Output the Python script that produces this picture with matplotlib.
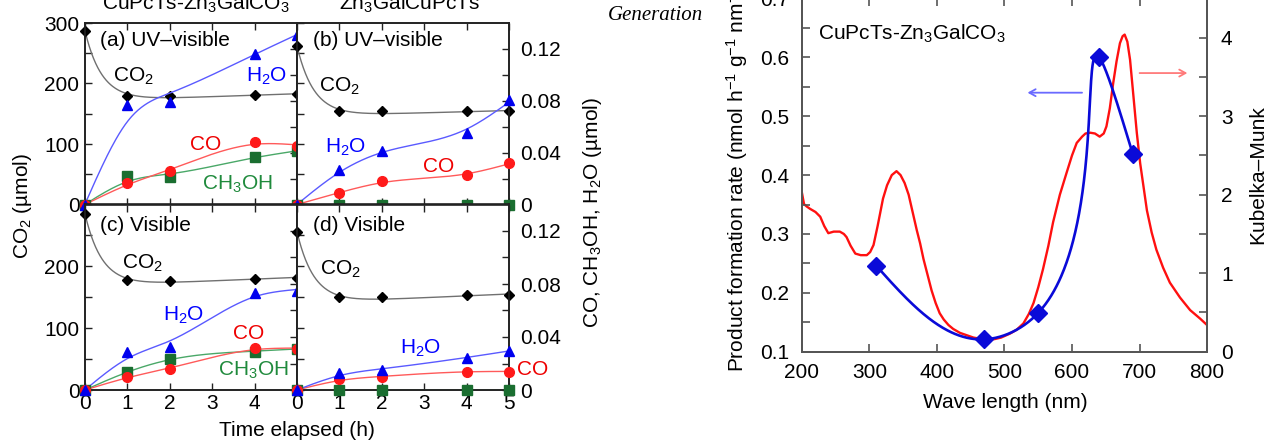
import numpy as np
import matplotlib
matplotlib.use('Agg')
import matplotlib.pyplot as plt
from matplotlib.ticker import MultipleLocator, FixedLocator, FixedFormatter

plt.rcParams['font.family'] = ['Liberation Sans', 'DejaVu Sans']
plt.rcParams['mathtext.fontset'] = 'custom'
plt.rcParams['mathtext.rm'] = 'Liberation Sans'
plt.rcParams['mathtext.it'] = 'Liberation Sans:italic'
plt.rcParams['mathtext.bf'] = 'Liberation Sans:bold'
plt.rcParams['mathtext.default'] = 'regular'

# ---------------- data: time courses ----------------
time_h = [0, 1, 2, 4, 5]

# (a) CuPcTs-Zn3GalCO3, UV-visible  (CO2 left axis, others right axis, umol)
a_co2 = [287, 180, 180, 181, 182]
a_h2o = [0, 0.077, 0.079, 0.116, 0.131]
a_co = [0, 0.0165, 0.0255, 0.0482, 0.0449]
a_ch3oh = [0, 0.0217, 0.0211, 0.0366, 0.0412]
# (b) Zn3GalCuPcTs, UV-visible
b_co2 = [262, 154, 154, 154, 154]
b_h2o = [0, 0.0263, 0.041, 0.0555, 0.0804]
b_co = [0, 0.0087, 0.018, 0.0224, 0.032]
b_ch3oh = [0, 0, 0, 0, 0]
# (c) CuPcTs-Zn3GalCO3, visible
c_co2 = [285, 178, 177, 180, 181]
c_h2o = [0, 0.0285, 0.0328, 0.0732, 0.0744]
c_co = [0, 0.0101, 0.0157, 0.0315, 0.031]
c_ch3oh = [0, 0.0139, 0.0232, 0.029, 0.031]
# (d) Zn3GalCuPcTs, visible
d_co2 = [256, 150, 150, 153, 154]
d_h2o = [0, 0.0126, 0.0151, 0.0245, 0.0295]
d_co = [0, 0.0083, 0.0096, 0.0139, 0.0139]
d_ch3oh = [0, 0, 0, 0, 0]

# ---------------- data: action spectrum ----------------
rate_wl = [310, 470, 550, 640, 690]
rate_val = [0.246, 0.121, 0.166, 0.601, 0.436]

km_wl = [200, 203, 207, 212, 220, 227, 233, 239, 247, 256, 262, 266, 272, 279,
         287, 296, 301, 306, 312, 320, 326, 333, 340, 346, 352, 358, 362, 366,
         370, 375, 380, 386, 392, 398, 404, 410, 417, 424, 434, 444, 454, 464,
         474, 485, 495, 508, 518, 528, 536, 543, 550, 557, 565, 572, 582, 592,
         600, 607, 615, 620, 627, 634, 641, 647, 651, 656, 661, 666, 671, 675,
         678, 682, 686, 690, 696, 701, 706, 711, 718, 725, 735, 745, 760, 775,
         790, 800]
km_val = [2.02, 1.88, 1.85, 1.82, 1.78, 1.72, 1.60, 1.51, 1.53, 1.53, 1.50, 1.46,
          1.35, 1.25, 1.23, 1.23, 1.27, 1.36, 1.60, 1.95, 2.12, 2.25, 2.30, 2.25,
          2.15, 2.00, 1.85, 1.70, 1.55, 1.38, 1.18, 0.98, 0.78, 0.62, 0.49, 0.41,
          0.34, 0.29, 0.24, 0.21, 0.18, 0.165, 0.155, 0.16, 0.18, 0.23, 0.28, 0.36,
          0.48, 0.62, 0.82, 1.05, 1.35, 1.65, 2.00, 2.28, 2.50, 2.66, 2.74, 2.78,
          2.79, 2.78, 2.74, 2.78, 2.87, 3.10, 3.42, 3.70, 3.93, 4.02, 4.04, 3.95,
          3.72, 3.35, 2.79, 2.40, 2.10, 1.80, 1.52, 1.30, 1.07, 0.88, 0.69, 0.53,
          0.42, 0.34]


# ---------------- helpers ----------------
def decay_fit(x, y):
    """Least-squares fit a + b*exp(-2.5 t) + c*t of the CO2 points."""
    x = np.asarray(x, float)
    y = np.asarray(y, float)
    xs = np.linspace(0, 5, 300)
    B = lambda t: np.column_stack([np.ones_like(t), np.exp(-2.5 * t), t])
    coef = np.linalg.lstsq(B(x), y, rcond=None)[0]
    return xs, B(xs) @ coef


def smooth_curve(x, y, lam=0.1):
    """Penalised (smoothing-spline like) fit of the points on a fine grid."""
    x = np.asarray(x, float)
    y = np.asarray(y, float)
    N = 201
    xs = np.linspace(0, 5, N)
    h = xs[1] - xs[0]
    scale = np.ptp(y) if np.ptp(y) > 0 else 1.0
    yn = y / scale
    Wt = np.zeros(N)
    z = np.zeros(N)
    idx = np.rint(x / h).astype(int)
    w = np.ones(len(x))
    w[0] = 20.0
    Wt[idx] = w
    z[idx] = w * yn
    D = np.diff(np.eye(N), 2, axis=0)
    A = np.diag(Wt) + lam / h ** 3 * (D.T @ D)
    f = np.linalg.solve(A, z)
    return xs, f * scale


def natural_spline(x, y, xs):
    x = np.asarray(x, float)
    y = np.asarray(y, float)
    n = len(x)
    h = np.diff(x)
    A = np.zeros((n, n))
    r = np.zeros(n)
    A[0, 0] = A[-1, -1] = 1
    for i in range(1, n - 1):
        A[i, i - 1] = h[i - 1]
        A[i, i] = 2 * (h[i - 1] + h[i])
        A[i, i + 1] = h[i]
        r[i] = 3 * ((y[i + 1] - y[i]) / h[i] - (y[i] - y[i - 1]) / h[i - 1])
    c = np.linalg.solve(A, r)
    b = np.diff(y) / h - h * (2 * c[:-1] + c[1:]) / 3
    d = np.diff(c) / (3 * h)
    idx = np.clip(np.searchsorted(x, xs) - 1, 0, n - 2)
    dx = xs - x[idx]
    return y[idx] + b[idx] * dx + c[idx] * dx ** 2 + d[idx] * dx ** 3


def param_spline(xd, yd, sx, sy, n=500):
    X = np.asarray(xd, float) * sx
    Y = np.asarray(yd, float) * sy
    t = np.concatenate([[0], np.cumsum(np.hypot(np.diff(X), np.diff(Y)))])
    ts = np.linspace(0, t[-1], n)
    return natural_spline(t, X, ts) / sx, natural_spline(t, Y, ts) / sy


W, H = 1268, 440
fig = plt.figure(figsize=(W / 100, H / 100), dpi=100)


def fax(x0, y0, x1, y1):
    return fig.add_axes([x0 / W, 1 - y1 / H, (x1 - x0) / W, (y1 - y0) / H])


FS = 15
SPINE = '#222222'
C_BLACK, C_BLUE, C_RED, C_GREEN = '#000000', '#0000ee', '#ff1a1a', '#1a6e30'
L_BLACK, L_BLUE, L_RED, L_GREEN = '#707070', '#5a5aff', '#ff5a5a', '#4aa868'
T_BLUE, T_RED, T_GREEN = '#0000ff', '#ee0000', '#1f8a3c'

panels = [
    dict(box=(85, 23, 297, 204.5), data=(a_co2, a_h2o, a_co, a_ch3oh), xl=False, side='left', ylab=['0', '100', '200', '300']),
    dict(box=(297, 23, 509, 204.5), data=(b_co2, b_h2o, b_co, b_ch3oh), xl=False, side='right', ylab=None),
    dict(box=(85, 204.5, 297, 390), data=(c_co2, c_h2o, c_co, c_ch3oh), xl=['0', '1', '2', '3', '4', ''], side='left', ylab=['0', '100', '200', '']),
    dict(box=(297, 204.5, 509, 390), data=(d_co2, d_h2o, d_co, d_ch3oh), xl=['0', '1', '2', '3', '4', '5'], side='right', ylab=None),
]

axes = []
for p in panels:
    ax = fax(*p['box'])
    ax2 = ax.twinx()
    ax.set_xlim(0, 5)
    ax.set_ylim(0, 300)
    ax2.set_ylim(0, 0.14)
    co2, h2o, co, ch3oh = p['data']
    xs, ys = decay_fit(time_h, co2)
    ax.plot(xs, ys, color=L_BLACK, lw=1.0, zorder=2)
    ax.plot(time_h, co2, 'D', color=C_BLACK, ms=5, clip_on=False, zorder=3)
    for vals, lc, mc, mk, ms in [(ch3oh, L_GREEN, C_GREEN, 's', 7),
                                 (co, L_RED, C_RED, 'o', 7),
                                 (h2o, L_BLUE, C_BLUE, '^', 7)]:
        xs, ys = smooth_curve(time_h, vals)
        ax2.plot(xs, ys, color=lc, lw=1.0, zorder=2)
        ax2.plot(time_h, vals, mk, color=mc, ms=ms, clip_on=False, zorder=3)
    for a in (ax, ax2):
        for s in a.spines.values():
            s.set_color(SPINE)
            s.set_linewidth(1.2)
    ax.xaxis.set_major_locator(FixedLocator([0, 1, 2, 3, 4, 5]))
    ax.yaxis.set_major_locator(FixedLocator([0, 100, 200, 300]))
    ax.yaxis.set_minor_locator(FixedLocator([50, 150, 250]))
    ax2.yaxis.set_major_locator(FixedLocator([0, 0.04, 0.08, 0.12]))
    ax2.yaxis.set_minor_locator(FixedLocator([0.02, 0.06, 0.10]))
    ax.tick_params(axis='both', which='both', direction='in', top=True, bottom=True,
                   left=True, right=False, labelsize=FS, length=5, width=1, color=SPINE)
    ax.tick_params(axis='x', pad=3)
    ax.tick_params(axis='y', pad=4)
    ax2.tick_params(axis='y', which='both', direction='in', right=True, left=False,
                    labelsize=FS, length=5, width=1, color=SPINE, pad=8)
    if p['xl']:
        ax.xaxis.set_major_formatter(FixedFormatter(p['xl']))
    else:
        ax.tick_params(axis='x', labelbottom=False)
    if p['side'] == 'left':
        ax.yaxis.set_major_formatter(FixedFormatter(p['ylab']))
        ax2.tick_params(axis='y', labelright=False)
    else:
        ax.tick_params(axis='y', labelleft=False)
        ax2.yaxis.set_major_formatter(FixedFormatter(['0', '0.04', '0.08', '0.12']))
    axes.append(ax)

ax_a, ax_b, ax_c, ax_d = axes
tr = lambda a: a.transAxes
kw = dict(fontsize=FS, ha='left', va='center')
# (a)
ax_a.text(0.07, 0.906, '(a) UV\u2013visible', transform=tr(ax_a), **kw)
ax_a.text(0.132, 0.707, 'CO$_2$', transform=tr(ax_a), **kw)
ax_a.text(0.76, 0.707, 'H$_2$O', color=T_BLUE, transform=tr(ax_a), **kw)
ax_a.text(0.495, 0.33, 'CO', color=T_RED, transform=tr(ax_a), **kw)
ax_a.text(0.55, 0.11, 'CH$_3$OH', color=T_GREEN, transform=tr(ax_a), **kw)
# (b)
ax_b.text(0.074, 0.906, '(b) UV\u2013visible', transform=tr(ax_b), **kw)
ax_b.text(0.105, 0.652, 'CO$_2$', transform=tr(ax_b), **kw)
ax_b.text(0.132, 0.317, 'H$_2$O', color=T_BLUE, transform=tr(ax_b), **kw)
ax_b.text(0.593, 0.212, 'CO', color=T_RED, transform=tr(ax_b), **kw)
# (c)
ax_c.text(0.07, 0.886, '(c) Visible', transform=tr(ax_c), **kw)
ax_c.text(0.173, 0.685, 'CO$_2$', transform=tr(ax_c), **kw)
ax_c.text(0.37, 0.40, 'H$_2$O', color=T_BLUE, transform=tr(ax_c), **kw)
ax_c.text(0.70, 0.303, 'CO', color=T_RED, transform=tr(ax_c), **kw)
ax_c.text(0.627, 0.108, 'CH$_3$OH', color=T_GREEN, transform=tr(ax_c), **kw)
# (d)
ax_d.text(0.077, 0.886, '(d) Visible', transform=tr(ax_d), **kw)
ax_d.text(0.108, 0.65, 'CO$_2$', transform=tr(ax_d), **kw)
ax_d.text(0.486, 0.227, 'H$_2$O', color=T_BLUE, transform=tr(ax_d), **kw)
ax_d.text(1.04, 0.113, 'CO', color=T_RED, transform=tr(ax_d), **kw)


def ftext(px, py, s, **k):
    fig.text(px / W, 1 - py / H, s, **k)


ftext(22, 206, 'CO$_2$ (\u00b5mol)', rotation=90, ha='center', va='center', fontsize=FS)
ftext(593, 212, 'CO, CH$_3$OH, H$_2$O (\u00b5mol)', rotation=90, ha='center', va='center', fontsize=FS)
ftext(297, 430, 'Time elapsed (h)', ha='center', va='center', fontsize=FS)
ftext(196, 9.5, 'CuPcTs-Zn$_3$GalCO$_3$', ha='center', va='baseline', fontsize=FS)
ftext(410, 9.5, 'Zn$_3$GalCuPcTs', ha='center', va='baseline', fontsize=FS)
ftext(703, 15, 'Generation', ha='right', va='center', fontsize=FS,
      family=['Liberation Serif', 'DejaVu Serif'], style='italic')

# ---------------- right panel ----------------
GRAY = '#555555'
axr = fax(802, -1.5, 1207, 351.7)
axk = axr.twinx()
axr.set_xlim(200, 800)
axr.set_ylim(0.1, 0.7)
axk.set_ylim(0, 4.5)
axr.set_zorder(axk.get_zorder() + 1)
axr.patch.set_visible(False)

axk.plot(km_wl, km_val, color='#ff1010', lw=1.7)
wl_s, rate_s = param_spline(rate_wl, rate_val, 0.675, 588.0)
axr.plot(wl_s, rate_s, color='#0a0ad8', lw=1.9)
axr.plot(rate_wl, rate_val, 'D', color='#0a0ad8', ms=9, clip_on=False)

axr.annotate('', xy=(530, 0.54), xytext=(619, 0.54),
             arrowprops=dict(arrowstyle='->,head_length=0.45,head_width=0.25', color='#6a6aff', lw=1.3))
axk.annotate('', xy=(775, 3.55), xytext=(696, 3.55),
             arrowprops=dict(arrowstyle='->,head_length=0.45,head_width=0.25', color='#ff7a7a', lw=1.3))

for a in (axr, axk):
    for s in a.spines.values():
        s.set_color(GRAY)
        s.set_linewidth(1.3)
axr.xaxis.set_major_locator(MultipleLocator(100))
axr.yaxis.set_major_locator(FixedLocator([0.1, 0.2, 0.3, 0.4, 0.5, 0.6, 0.7]))
axr.yaxis.set_minor_locator(FixedLocator([0.15, 0.25, 0.35, 0.45, 0.55, 0.65]))
axr.yaxis.set_major_formatter(FixedFormatter(['0.1', '0.2', '0.3', '0.4', '0.5', '0.6', '0.7']))
axk.yaxis.set_major_locator(FixedLocator([0, 1, 2, 3, 4]))
axk.yaxis.set_minor_locator(FixedLocator([0.5, 1.5, 2.5, 3.5]))
axr.tick_params(axis='x', which='both', direction='in', top=True, bottom=True,
                labelsize=FS, length=6, width=1.2, color=GRAY, pad=8)
axr.tick_params(axis='y', which='both', direction='in', left=True, right=False,
                labelsize=FS, length=6, width=1.2, color=GRAY, pad=9)
axk.tick_params(axis='y', which='both', direction='in', right=True, left=False,
                labelsize=FS, length=6, width=1.2, color=GRAY, pad=10)

axr.text(0.04, 0.90, 'CuPcTs-Zn$_3$GalCO$_3$', transform=axr.transAxes, fontsize=FS, ha='left', va='center')
ftext(1005, 402, 'Wave length (nm)', ha='center', va='center', fontsize=FS)
ftext(737, 175, 'Product formation rate (nmol h$^{-1}$ g$^{-1}$ nm$^{-1}$)', rotation=90,
      ha='center', va='center', fontsize=FS)
ftext(1258, 175, 'Kubelka\u2013Munk', rotation=90, ha='center', va='center', fontsize=FS)

fig.savefig('out.png', dpi=100)
